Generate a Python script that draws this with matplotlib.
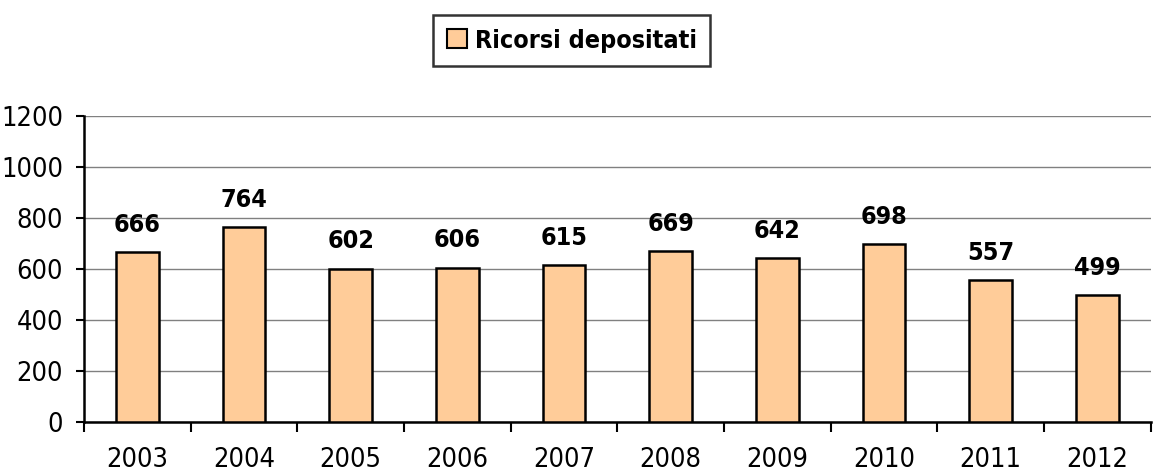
import matplotlib.pyplot as plt
from matplotlib import font_manager
from matplotlib.patches import Patch

years = ['2003', '2004', '2005', '2006', '2007', '2008', '2009', '2010', '2011', '2012']
ricorsi = [666, 764, 602, 606, 615, 669, 642, 698, 557, 499]
yticks = [0, 200, 400, 600, 800, 1000, 1200]

# narrow font if one is around, else plain DejaVu
names = set(f.name for f in font_manager.fontManager.ttflist)
narrow = [f for f in font_manager.fontManager.ttflist if f.stretch in ('condensed', 'semi-condensed')]
if 'Liberation Sans Narrow' in names:
    plt.rcParams['font.family'] = ['Liberation Sans Narrow', 'DejaVu Sans']
    stretch = 'normal'
elif narrow:
    plt.rcParams['font.family'] = [narrow[0].name, 'DejaVu Sans']
    stretch = 'condensed'
else:
    plt.rcParams['font.family'] = ['DejaVu Sans']
    stretch = 'normal'
plt.rcParams['font.stretch'] = stretch

fig = plt.figure(figsize=(11.53, 4.72), dpi=100)
ax = fig.add_axes([0.0729, 0.106, 0.925, 0.648])

x = list(range(len(years)))
ax.bar(x, ricorsi, width=0.4, color='#FFCC99', edgecolor='black', linewidth=1.8, zorder=3)

for xi, v in zip(x, ricorsi):
    ax.annotate(str(v), (xi, v), xytext=(0, 11), textcoords='offset points',
                ha='center', va='bottom', fontsize=18, fontweight='bold')

ax.set_xlim(-0.5, len(years) - 0.5)
ax.set_ylim(0, 1200)
ax.set_yticks(yticks)
ax.yaxis.grid(True, color='#808080', linewidth=1, zorder=0)

ax.set_xticks(x)
ax.set_xticklabels(years)
ax.set_xticks([i - 0.5 for i in range(len(years) + 1)], minor=True)
ax.tick_params(axis='x', which='major', length=0, pad=18, labelsize=19.5)
ax.tick_params(axis='x', which='minor', length=7, width=1.5, direction='out')
ax.tick_params(axis='y', length=6, width=1.5, pad=9, labelsize=19.5)

for s in ['top', 'right']:
    ax.spines[s].set_visible(False)
for s in ['left', 'bottom']:
    ax.spines[s].set_linewidth(1.8)

handle = Patch(facecolor='#FFCC99', edgecolor='black', linewidth=1.5)
leg = fig.legend([handle], ['Ricorsi depositati'], loc='upper center',
                 bbox_to_anchor=(0.496, 0.995), frameon=True, fancybox=False,
                 prop={'size': 18, 'weight': 'bold'}, handlelength=0.8, handleheight=0.8,
                 handletextpad=0.3, borderpad=0.55)
leg.get_frame().set_edgecolor('black')
leg.get_frame().set_linewidth(1.8)

fig.savefig('out.png', dpi=100)
